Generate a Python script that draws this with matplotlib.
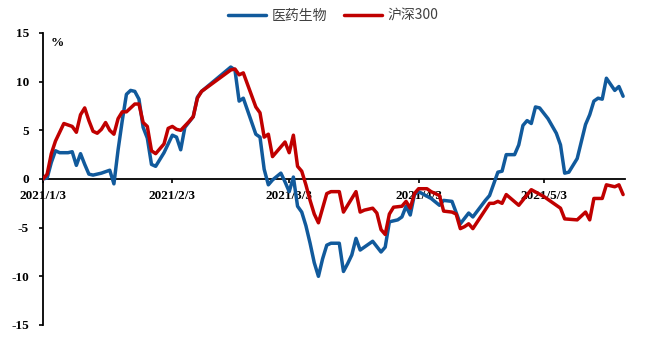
import matplotlib
matplotlib.use("Agg")
import matplotlib.pyplot as plt
import matplotlib.dates as mdates
import pandas as pd

# 医药生物 relative return (%)
pharma_dates = [
    "2021-01-03", "2021-01-04", "2021-01-05", "2021-01-06", "2021-01-07", "2021-01-09",
    "2021-01-10", "2021-01-11", "2021-01-12", "2021-01-13", "2021-01-14", "2021-01-15",
    "2021-01-17", "2021-01-19", "2021-01-20", "2021-01-21", "2021-01-22", "2021-01-23",
    "2021-01-24", "2021-01-25", "2021-01-26", "2021-01-27", "2021-01-28", "2021-01-29",
    "2021-01-30", "2021-02-01", "2021-02-03", "2021-02-04", "2021-02-05", "2021-02-06",
    "2021-02-08", "2021-02-09", "2021-02-10", "2021-02-17", "2021-02-18", "2021-02-19",
    "2021-02-20", "2021-02-23", "2021-02-24", "2021-02-25", "2021-02-26", "2021-02-27",
    "2021-03-01", "2021-03-02", "2021-03-03", "2021-03-04", "2021-03-05", "2021-03-06",
    "2021-03-07", "2021-03-08", "2021-03-09", "2021-03-10", "2021-03-11", "2021-03-12",
    "2021-03-13", "2021-03-15", "2021-03-16", "2021-03-17", "2021-03-18", "2021-03-19",
    "2021-03-20", "2021-03-23", "2021-03-25", "2021-03-26", "2021-03-27", "2021-03-29",
    "2021-03-30", "2021-03-31", "2021-04-01", "2021-04-02", "2021-04-03", "2021-04-06",
    "2021-04-08", "2021-04-09", "2021-04-11", "2021-04-13", "2021-04-15", "2021-04-16",
    "2021-04-19", "2021-04-20", "2021-04-21", "2021-04-22", "2021-04-23", "2021-04-24",
    "2021-04-26", "2021-04-27", "2021-04-28", "2021-04-29", "2021-04-30", "2021-05-01",
    "2021-05-02", "2021-05-04", "2021-05-06", "2021-05-07", "2021-05-08", "2021-05-09",
    "2021-05-11", "2021-05-13", "2021-05-14", "2021-05-15", "2021-05-16", "2021-05-17",
    "2021-05-18", "2021-05-20", "2021-05-21", "2021-05-22",
]
pharma_values = [
    0.0, 0.1, 1.7, 2.9, 2.7, 2.7,
    2.8, 1.4, 2.6, 1.5, 0.5, 0.4,
    0.6, 0.9, -0.5, 3.0, 6.0, 8.7,
    9.1, 9.0, 8.2, 5.3, 4.2, 1.5,
    1.3, 2.7, 4.5, 4.3, 3.0, 5.3,
    6.4, 8.4, 9.0, 11.5, 11.2, 8.0,
    8.3, 4.6, 4.3, 1.0, -0.6, -0.1,
    0.6, -0.3, -1.3, 0.2, -2.8, -3.4,
    -4.8, -6.6, -8.6, -10.0, -8.2, -6.8,
    -6.6, -6.6, -9.5, -8.7, -7.8, -6.1,
    -7.3, -6.4, -7.5, -7.0, -4.4, -4.2,
    -3.9, -2.8, -3.7, -1.6, -1.3, -2.0,
    -2.7, -2.2, -2.3, -4.6, -3.5, -3.9,
    -2.2, -1.7, -0.5, 0.7, 0.8, 2.5,
    2.5, 3.5, 5.5, 6.0, 5.7, 7.4,
    7.3, 6.2, 4.7, 3.5, 0.6, 0.7,
    2.1, 5.6, 6.6, 8.0, 8.3, 8.2,
    10.35, 9.1, 9.5, 8.5,
]

# 沪深300 return (%)
hs300_dates = [
    "2021-01-03", "2021-01-04", "2021-01-05", "2021-01-06", "2021-01-07", "2021-01-08",
    "2021-01-10", "2021-01-11", "2021-01-12", "2021-01-13", "2021-01-14", "2021-01-15",
    "2021-01-16", "2021-01-17", "2021-01-18", "2021-01-19", "2021-01-20", "2021-01-21",
    "2021-01-22", "2021-01-23", "2021-01-24", "2021-01-25", "2021-01-26", "2021-01-27",
    "2021-01-28", "2021-01-29", "2021-01-30", "2021-02-01", "2021-02-02", "2021-02-03",
    "2021-02-04", "2021-02-05", "2021-02-07", "2021-02-08", "2021-02-09", "2021-02-10",
    "2021-02-17", "2021-02-18", "2021-02-19", "2021-02-20", "2021-02-23", "2021-02-24",
    "2021-02-25", "2021-02-26", "2021-02-27", "2021-03-02", "2021-03-03", "2021-03-04",
    "2021-03-05", "2021-03-06", "2021-03-07", "2021-03-08", "2021-03-09", "2021-03-10",
    "2021-03-11", "2021-03-12", "2021-03-13", "2021-03-15", "2021-03-16", "2021-03-17",
    "2021-03-19", "2021-03-20", "2021-03-21", "2021-03-23", "2021-03-24", "2021-03-25",
    "2021-03-26", "2021-03-27", "2021-03-28", "2021-03-30", "2021-03-31", "2021-04-01",
    "2021-04-02", "2021-04-03", "2021-04-05", "2021-04-06", "2021-04-08", "2021-04-09",
    "2021-04-11", "2021-04-12", "2021-04-13", "2021-04-14", "2021-04-15", "2021-04-16",
    "2021-04-20", "2021-04-21", "2021-04-22", "2021-04-23", "2021-04-24", "2021-04-27",
    "2021-04-30", "2021-05-03", "2021-05-07", "2021-05-08", "2021-05-11", "2021-05-13",
    "2021-05-14", "2021-05-15", "2021-05-17", "2021-05-18", "2021-05-20", "2021-05-21",
    "2021-05-22",
]
hs300_values = [
    0.0, 0.5, 2.6, 3.9, 4.8, 5.7,
    5.4, 4.8, 6.6, 7.3, 6.0, 4.9,
    4.7, 5.1, 5.8, 5.0, 4.6, 6.2,
    6.9, 6.9, 7.3, 7.7, 7.7, 5.8,
    5.4, 2.9, 2.6, 3.6, 5.2, 5.4,
    5.1, 5.0, 5.9, 6.4, 8.3, 9.0,
    11.2, 11.3, 10.7, 10.9, 7.4, 6.8,
    4.3, 4.6, 2.3, 3.8, 2.7, 4.5,
    1.3, 0.8, -0.6, -2.2, -3.6, -4.5,
    -3.0, -1.5, -1.3, -1.3, -3.4, -2.7,
    -1.3, -3.4, -3.2, -3.0, -3.5, -5.2,
    -5.7, -3.6, -2.9, -2.8, -2.3, -3.0,
    -1.5, -1.0, -1.0, -1.3, -1.7, -3.3,
    -3.4, -3.6, -5.1, -4.9, -4.6, -5.1,
    -2.5, -2.5, -2.3, -2.5, -1.6, -2.7,
    -1.1, -1.8, -3.0, -4.1, -4.2, -3.4,
    -4.2, -2.0, -2.0, -0.6, -0.8, -0.6,
    -1.6,
]

tick_dates = ["2021-01-03", "2021-02-03", "2021-03-03", "2021-04-03", "2021-05-03"]
tick_labels = ["2021/1/3", "2021/2/3", "2021/3/3", "2021/4/3", "2021/5/3"]
y_ticks = [-15, -10, -5, 0, 5, 10, 15]

BLUE = "#115A9C"
RED = "#C00000"

fig = plt.figure(figsize=(6.56, 3.46), dpi=100)
ax = fig.add_axes([0.0655, 0.0607, 0.887, 0.844])

ax.plot(pd.to_datetime(pharma_dates), pharma_values, color=BLUE, lw=2.5,
        solid_joinstyle="round", solid_capstyle="round", label="医药生物", zorder=3)
ax.plot(pd.to_datetime(hs300_dates), hs300_values, color=RED, lw=2.5,
        solid_joinstyle="round", solid_capstyle="round", label="沪深300", zorder=4)

ax.set_xlim(pd.Timestamp("2021-01-03"), pd.Timestamp("2021-05-22 10:00"))
ax.set_ylim(-15, 15)

for s in ("top", "right"):
    ax.spines[s].set_visible(False)
ax.spines["bottom"].set_position(("data", 0))
ax.spines["bottom"].set_linewidth(1.3)
ax.spines["left"].set_linewidth(1.3)
ax.spines["bottom"].set_zorder(2)

ax.set_xticks(pd.to_datetime(tick_dates))
ax.set_xticklabels(tick_labels)
ax.set_yticks(y_ticks)
ax.set_yticklabels([str(v) for v in y_ticks])

tick_font = dict(family="Liberation Serif", weight="bold", size=9.5)
for lab in ax.get_xticklabels() + ax.get_yticklabels():
    lab.set_fontfamily(tick_font["family"])
    lab.set_fontweight(tick_font["weight"])
    lab.set_fontsize(tick_font["size"])

ax.tick_params(axis="x", direction="out", length=3, width=1.2, pad=5)
ax.tick_params(axis="y", direction="out", length=3, width=1.2, pad=7)

ax.text(0.025, 0.967, "%", transform=ax.transAxes, ha="center", va="center",
        family="Liberation Serif", weight="bold", fontsize=9.5)

fig.legend(loc="upper center", bbox_to_anchor=(0.508, 1.01), ncol=2, frameon=False,
           prop={"family": ["Noto Sans CJK SC", "DejaVu Sans"], "size": 10},
           handlelength=2.75, handletextpad=0.4, columnspacing=1.2, labelcolor="#404040")

fig.savefig("out.png", dpi=100)
